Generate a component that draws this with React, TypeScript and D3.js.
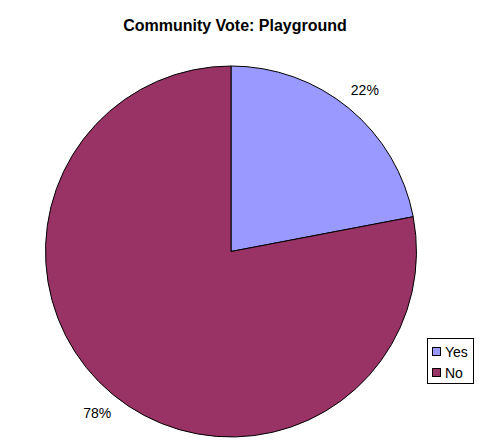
import React from "react";
import * as d3 from "d3";

const categories = ["Yes", "No"];
const values = [22, 78];
const colors = ["#9999ff", "#993366"];
const title = "Community Vote: Playground";

export default function App() {
  const W = 498, H = 447;
  const cx = 231, cy = 251.5, r = 185.5, labelR = 210;
  const total = d3.sum(values);
  const pie = d3.pie<number>().sort(null).value((d) => d)(values);
  const arc = d3.arc<d3.PieArcDatum<number>>().innerRadius(0).outerRadius(r);
  return (
    <svg width={W} height={H} style={{ position: "absolute", left: 0, top: 0, fontFamily: "'Liberation Sans', Arial, sans-serif" }}>
      <rect width={W} height={H} fill="#fff" />
      <text x={235} y={31} textAnchor="middle" fontWeight="bold" fontSize={16}>{title}</text>
      <g transform={`translate(${cx},${cy})`}>
        {pie.map((p, i) => (
          <path key={i} d={arc(p) || ""} fill={colors[i]} stroke="#000" strokeWidth={1} />
        ))}
        {pie.map((p, i) => {
          const a = (p.startAngle + p.endAngle) / 2;
          return (
            <text key={"l" + i} x={labelR * Math.sin(a)} y={-labelR * Math.cos(a)} dy="0.35em" textAnchor="middle" fontSize={14}>
              {Math.round((values[i] / total) * 100) + "%"}
            </text>
          );
        })}
      </g>
      <rect x={427.5} y={338.5} width={46} height={45} fill="#fff" stroke="#000" strokeWidth={1} />
      {categories.map((c, i) => (
        <g key={c} transform={`translate(432,${347 + i * 21})`}>
          <rect x={0.5} y={0.5} width={8} height={8} fill={colors[i]} stroke="#000" strokeWidth={1} />
          <text x={13} y={9.5} fontSize={14}>{c}</text>
        </g>
      ))}
    </svg>
  );
}
